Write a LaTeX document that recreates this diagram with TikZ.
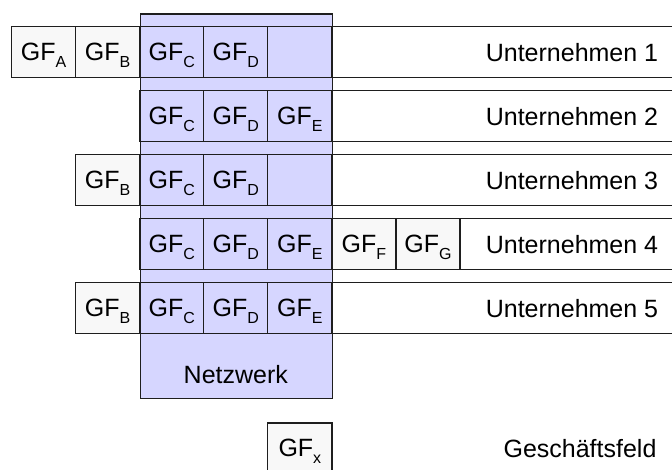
\documentclass[tikz,border=0pt]{standalone}
\usepackage{fontspec}
\setmainfont{Liberation Sans}
\definecolor{netz}{RGB}{214,214,255}
\definecolor{cellgray}{RGB}{248,248,248}
\definecolor{linec}{RGB}{30,30,30}
\newcommand\gfsub[1]{GF\raisebox{-7pt}{\fontsize{16}{16}\selectfont #1}}
\begin{document}
\begin{tikzpicture}[x=1pt,y=-1pt,
  every node/.style={font=\fontsize{25}{30}\selectfont, text=black},
  cellbox/.style={draw=linec, line width=1.2pt, minimum width=64.06pt, minimum height=51pt, inner sep=0pt, text height=18pt, text depth=2pt},
  outcell/.style={cellbox, fill=cellgray},
  rowbox/.style={draw=linec, line width=1.2pt, minimum height=51pt, inner sep=0pt, anchor=west},
  lab/.style={text height=18pt, text depth=0pt, inner sep=0pt}]
\useasboundingbox (0,0) rectangle (672,469);
\clip (0,0) rectangle (672,469);
% network
\node[draw=linec, fill=netz, line width=1.2pt, minimum width=192.2pt, minimum height=384.7pt, inner sep=0pt, anchor=north west] (netz) at (139.72,13.3) {};
\node[lab] (netzlab) at (235.8,374) {Netzwerk};
% rows
\node[rowbox, minimum width=670pt] (r1) at (11.6,52) {};
\node[rowbox, minimum width=545pt] (r2) at (139.72,116) {};
\node[rowbox, minimum width=610pt] (r3) at (75.66,180) {};
\node[rowbox, minimum width=545pt] (r4) at (139.72,244) {};
\node[rowbox, minimum width=610pt] (r5) at (75.66,308) {};
% row 1
\node[outcell] (a1) at (43.63,52) {\gfsub{A}};
\node[outcell] (b1) at (107.69,52) {\gfsub{B}};
\node[cellbox] (c1) at (171.75,52) {\gfsub{C}};
\node[cellbox] (d1) at (235.81,52) {\gfsub{D}};
\node[cellbox] (e1) at (299.87,52) {};
% row 2
\node[cellbox] (c2) at (171.75,116) {\gfsub{C}};
\node[cellbox] (d2) at (235.81,116) {\gfsub{D}};
\node[cellbox] (e2) at (299.87,116) {\gfsub{E}};
% row 3
\node[outcell] (b3) at (107.69,180) {\gfsub{B}};
\node[cellbox] (c3) at (171.75,180) {\gfsub{C}};
\node[cellbox] (d3) at (235.81,180) {\gfsub{D}};
\node[cellbox] (e3) at (299.87,180) {};
% row 4
\node[cellbox] (c4) at (171.75,244) {\gfsub{C}};
\node[cellbox] (d4) at (235.81,244) {\gfsub{D}};
\node[cellbox] (e4) at (299.87,244) {\gfsub{E}};
\node[outcell] (f4) at (363.93,244) {\gfsub{F}};
\node[outcell] (g4) at (427.99,244) {\gfsub{G}};
% row 5
\node[outcell] (b5) at (107.69,308) {\gfsub{B}};
\node[cellbox] (c5) at (171.75,308) {\gfsub{C}};
\node[cellbox] (d5) at (235.81,308) {\gfsub{D}};
\node[cellbox] (e5) at (299.87,308) {\gfsub{E}};
% labels
\node[lab] (u1) at (572,52) {Unternehmen 1};
\node[lab] (u2) at (572,116) {Unternehmen 2};
\node[lab] (u3) at (572,180) {Unternehmen 3};
\node[lab] (u4) at (572,244) {Unternehmen 4};
\node[lab] (u5) at (572,308) {Unternehmen 5};
% legend
\node[outcell] (gfx) at (299.87,448.5) {\gfsub{x}};
\node[lab] (gfl) at (580,448) {Geschäftsfeld};
\end{tikzpicture}
\end{document}
